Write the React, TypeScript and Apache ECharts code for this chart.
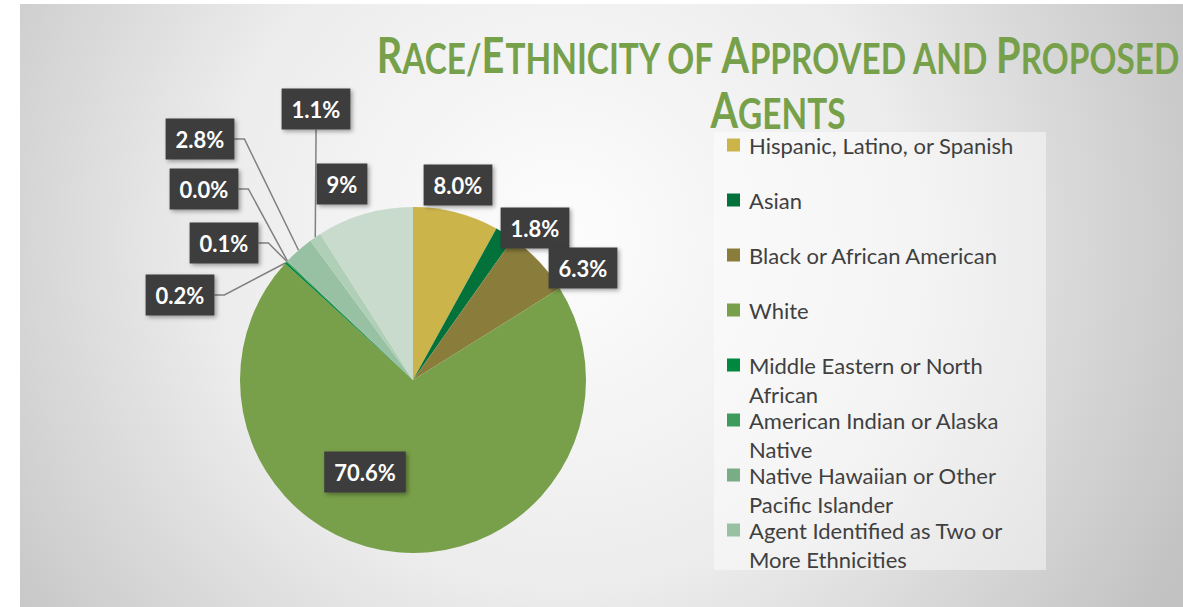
import React, { useEffect, useRef } from "react";
import * as echarts from "echarts";

const CATEGORIES = [
  "Hispanic, Latino, or Spanish",
  "Asian",
  "Black or African American",
  "White",
  "Middle Eastern or North African",
  "American Indian or Alaska Native",
  "Native Hawaiian or Other Pacific Islander",
  "Agent Identified as Two or More Ethnicities",
  "Other",
  "Not Identified",
];
const VALUES = [8.0, 1.8, 6.3, 70.6, 0.2, 0.1, 0.04, 2.8, 1.1, 9];
const VALUE_LABELS = ["8.0%", "1.8%", "6.3%", "70.6%", "0.2%", "0.1%", "0.0%", "2.8%", "1.1%", "9%"];
const LEGEND_ITEMS = CATEGORIES.slice(0, 8);
const LEGEND_TEXT = [
  "Hispanic, Latino, or Spanish",
  "Asian",
  "Black or African American",
  "White",
  "Middle Eastern or North\nAfrican",
  "American Indian or Alaska\nNative",
  "Native Hawaiian or Other\nPacific Islander",
  "Agent Identified as Two or\nMore Ethnicities",
];
const TITLE_TEXT =
  "{b|R}{s|ACE/}{b|E}{s|THNICITY OF }{b|A}{s|PPROVED AND }{b|P}{s|ROPOSED}\n{b|A}{s|GENTS}";
const COLORS = [
  "#CBB54B", "#03723A", "#8A7D3C", "#789F4A", "#00883F",
  "#3F9A5E", "#79AD86", "#98C0A2", "#B0CFB7", "#C9DBCD",
];
const LINE_LABELS = [false, false, false, false, true, true, true, true, true, false];
// label box centres (layout only)
const LABEL_POS: [number, number][] = [
  [458, 185], [535, 228], [583, 268], [365, 472], [180, 295],
  [224, 243], [204, 189], [200, 139], [316, 109], [342, 184],
];

export default function App() {
  const ref = useRef<HTMLDivElement>(null);
  useEffect(() => {
    if (!ref.current) return;
    const chart = echarts.init(ref.current, null, { renderer: "svg" });
    const green = "#77A04A";
    const big = { fontSize: 50, fontWeight: "bold", fill: green, fontFamily: "Lato", lineHeight: 55, verticalAlign: "bottom" };
    const small = { fontSize: 42, fontWeight: "bold", fill: green, fontFamily: "Lato", lineHeight: 55, verticalAlign: "bottom" };
    chart.setOption({
      animation: false,
      graphic: [
        {
          type: "rect",
          z: -10,
          shape: { x: 20, y: 4, width: 1163, height: 603 },
          style: {
            fill: new echarts.graphic.RadialGradient(560, 240, 700, [
              { offset: 0, color: "#fdfdfd" },
              { offset: 0.5, color: "#ececec" },
              { offset: 1, color: "#c2c2c2" },
            ], true),
          },
        },
        {
          type: "rect",
          z: -9,
          shape: { x: 714, y: 132, width: 332, height: 438 },
          style: { fill: "rgba(255,255,255,0.45)" },
        },
        {
          type: "text",
          z: 10,
          x: 778,
          y: 24,
          scaleX: 0.795,
          style: {
            text: TITLE_TEXT,
            align: "center",
            verticalAlign: "top",
            fill: green,
            rich: { b: big, s: small },
          },
        },
      ],
      legend: {
        orient: "vertical",
        left: 727,
        top: 101.5,
        padding: 0,
        itemWidth: 13,
        itemHeight: 13,
        itemGap: -32,
        icon: "rect",
        selectedMode: false,
        data: LEGEND_ITEMS.map((name, i) => ({
          name,
          textStyle: {
            padding: LEGEND_TEXT[i].indexOf("\n") >= 0 ? [0, 0, 0, 4] : [29, 0, 29, 4],
          },
        })),
        // wrapped entries get an empty leading line so that their first line sits beside the swatch
        formatter: (name: string) => {
          const t = LEGEND_TEXT[LEGEND_ITEMS.indexOf(name)];
          return t.indexOf("\n") >= 0 ? "\n" + t : t;
        },
        textStyle: {
          fontFamily: "Lato",
          fontSize: 22,
          color: "#404040",
          lineHeight: 29,
        },
      },
      series: [
        {
          type: "pie",
          center: [413, 380],
          radius: 173,
          startAngle: 90,
          clockwise: true,
          avoidLabelOverlap: false,
          data: CATEGORIES.map((name, i) => ({
            name,
            value: VALUES[i],
            itemStyle: { color: COLORS[i] },
            labelLine: { show: LINE_LABELS[i] },
          })),
          label: {
            show: true,
            position: "outside",
            formatter: (p: any) => VALUE_LABELS[p.dataIndex],
            fontFamily: "Lato",
            fontWeight: "bold",
            fontSize: 22,
            color: "#ffffff",
            backgroundColor: "#3c3c3c",
            padding: [8, 10, 7, 10],
            lineHeight: 26,
            shadowColor: "rgba(0,0,0,0.35)",
            shadowBlur: 4,
            shadowOffsetX: 2,
            shadowOffsetY: 2,
          },
          labelLine: {
            length: 10,
            length2: 10,
            lineStyle: { color: "#808080", width: 1.5 },
          },
          labelLayout: (p: any) => {
            const pos = LABEL_POS[p.dataIndex];
            return { x: pos[0], y: pos[1], align: "center", verticalAlign: "middle" };
          },
        },
      ],
    });
    return () => chart.dispose();
  }, []);
  return (
    <div
      ref={ref}
      style={{ position: "absolute", left: 0, top: 0, width: 1183, height: 607, background: "#fff" }}
    />
  );
}
